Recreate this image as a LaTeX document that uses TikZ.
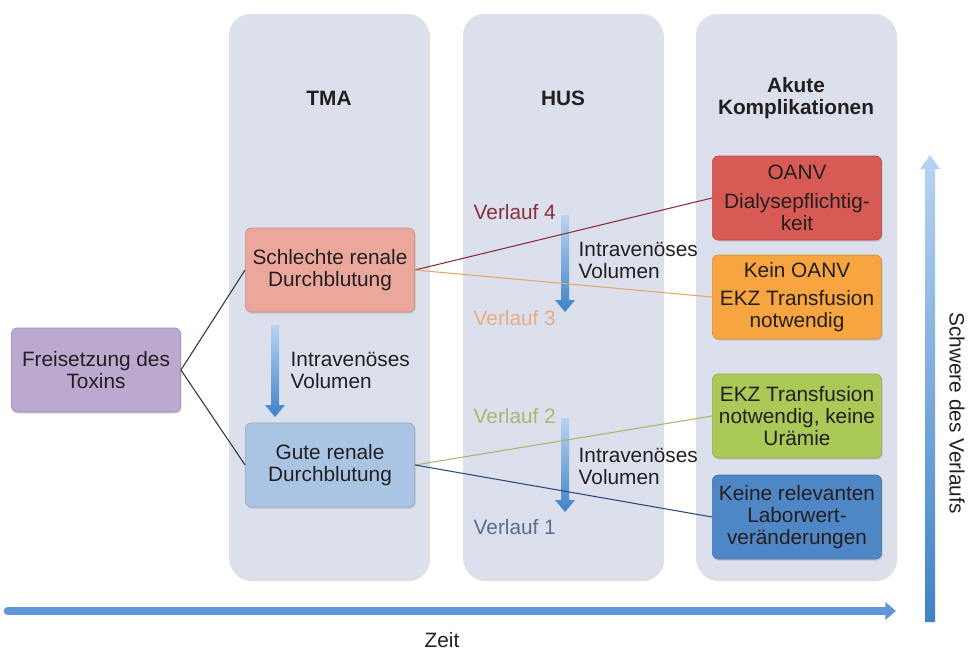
\documentclass[tikz,border=0pt]{standalone}
\usepackage{fontspec}
\setmainfont{Liberation Sans}
\usetikzlibrary{positioning,calc,shadows,arrows.meta}

\definecolor{colfill}{HTML}{DBE0EC}
\definecolor{txtdark}{HTML}{231F20}
\definecolor{toxfill}{HTML}{BBA9CF}
\definecolor{badfill}{HTML}{ECA79C}
\definecolor{goodfill}{HTML}{A9C5E3}
\definecolor{redfill}{HTML}{D85A55}
\definecolor{orangefill}{HTML}{F7A540}
\definecolor{greenfill}{HTML}{AAC957}
\definecolor{bluefill}{HTML}{4F86C6}
\definecolor{linetox}{HTML}{2C3550}
\definecolor{linered}{HTML}{8B2E3B}
\definecolor{lineorange}{HTML}{E3A866}
\definecolor{linegreen}{HTML}{A8B872}
\definecolor{lineblue}{HTML}{2F4A78}
\definecolor{verlaufpeach}{HTML}{E8AC84}
\definecolor{arrowtop}{HTML}{B8D4F2}
\definecolor{arrowbot}{HTML}{3F82C8}
\definecolor{axisblue}{HTML}{5F97D8}

% shaded down arrow between two named coordinates
\newcommand{\volarrow}[2]{%
  \shade[top color=arrowtop, bottom color=arrowbot]
    ($(#1)+(-4,0)$) -- ($(#2)+(-4,-12)$) -- ($(#2)+(-10,-12)$) -- (#2)
    -- ($(#2)+(10,-12)$) -- ($(#2)+(4,-12)$) -- ($(#1)+(4,0)$) -- cycle;}

\begin{document}
\begin{tikzpicture}[x=0.75pt, y=-0.75pt, node distance=74.25pt,
  every node/.style={font=\fontsize{15.6}{16.5}\selectfont, text=txtdark},
  column/.style={rectangle, rounded corners=16pt, fill=colfill, minimum width=150pt, minimum height=423.75pt,
    drop shadow={opacity=0.25, shadow xshift=0.8pt, shadow yshift=-1.5pt}},
  box/.style={rectangle, rounded corners=4.5pt, align=center, minimum width=127pt, minimum height=63pt, inner sep=2pt,
    drop shadow={opacity=0.3, shadow xshift=0.8pt, shadow yshift=-1.2pt}},
  title/.style={align=center, font=\fontsize{15.6}{16.5}\selectfont\bfseries},
  path/.style={line width=0.8pt},
  verlauf/.style={anchor=west}]
\useasboundingbox (0,0) rectangle (968,650);

% columns
\node (tma_col) [column] at (329,296.5) {};
\node (hus_col) [column] at (563,296.5) {};
\node (akut_col) [column] at (796,296.5) {};
\node (tma_title) [title] at (329,98) {TMA};
\node (hus_title) [title] at (563,98) {HUS};
\node (akut_title) [title] at (796,98) {Akute\\Komplikationen};

% boxes
\node (toxin) [box, fill=toxfill, draw=toxfill!80!black] at (96,370) {Freisetzung des\\Toxins};
\node (schlecht) [box, fill=badfill, draw=badfill!85!black] at (330,270) {Schlechte renale\\Durchblutung};
\node (gut) [box, fill=goodfill, draw=goodfill!85!black, below of=schlecht, node distance=146.25pt] {Gute renale\\Durchblutung};

\node (oanv) [box, fill=redfill, draw=redfill!85!black] at (797,198) {OANV\\[5pt]Dialysepflichtig-\\keit};
\node (kein_oanv) [box, fill=orangefill, draw=orangefill!85!black, below of=oanv] {Kein OANV\\[5pt]EKZ Transfusion\\notwendig};
\node (ekz) [box, fill=greenfill, draw=greenfill!85!black] at (797,416) {EKZ Transfusion\\notwendig, keine\\Urämie};
\node (labor) [box, fill=bluefill, draw=bluefill!85!black, below of=ekz, node distance=75.75pt] {Keine relevanten\\Laborwert-\\veränderungen};

% volume arrows
\coordinate (tma_vol_top) at (275,325);
\coordinate (tma_vol_tip) at (275,417);
\coordinate (hus_vol1_top) at (565,215);
\coordinate (hus_vol1_tip) at (565,312);
\coordinate (hus_vol2_top) at (565,418);
\coordinate (hus_vol2_tip) at (565,512);
\volarrow{tma_vol_top}{tma_vol_tip}
\volarrow{hus_vol1_top}{hus_vol1_tip}
\volarrow{hus_vol2_top}{hus_vol2_tip}
\node (tma_vol) [anchor=west, align=left] at (286,370) {Intravenöses\\Volumen};
\node (hus_vol1) [anchor=west, align=left] at (574,260) {Intravenöses\\Volumen};
\node (hus_vol2) [anchor=west, align=left] at (574,466) {Intravenöses\\Volumen};

\node (verlauf4) [verlauf, text=linered] at (469,212) {Verlauf 4};
\node (verlauf3) [verlauf, text=verlaufpeach] at (469,318) {Verlauf 3};
\node (verlauf2) [verlauf, text=linegreen] at (469,416) {Verlauf 2};
\node (verlauf1) [verlauf, text=lineblue!80!white] at (469,527) {Verlauf 1};

% connectors
\draw [path, linetox] (toxin.east) -- (schlecht.west);
\draw [path, linetox] (toxin.east) -- (gut.west);
\draw [path, linered] (schlecht.east) -- (oanv.west);
\draw [path, lineorange] (schlecht.east) -- (kein_oanv.west);
\draw [path, linegreen] (gut.east) -- (ekz.west);
\draw [path, lineblue] (gut.east) -- (labor.west);

% axes
\coordinate (zeit_start) at (8,611);
\coordinate (zeit_end) at (896,611);
\draw [line width=6.5pt, axisblue, line cap=round, -{Triangle[width=13pt, length=8pt]}] (zeit_start) -- (zeit_end);
\node (zeit) at (442,640) {Zeit};

\coordinate (sev_bot) at (930,622);
\coordinate (sev_top) at (930,155);
\shade[top color=arrowtop, bottom color=arrowbot]
  ($(sev_bot)+(-5,0)$) -- ($(sev_top)+(-5,14)$) -- ($(sev_top)+(-10,14)$) -- (sev_top)
  -- ($(sev_top)+(10,14)$) -- ($(sev_top)+(5,14)$) -- ($(sev_bot)+(5,0)$) -- cycle;
\node (schwere) [rotate=-90] at (957,413) {Schwere des Verlaufs};
\end{tikzpicture}
\end{document}
